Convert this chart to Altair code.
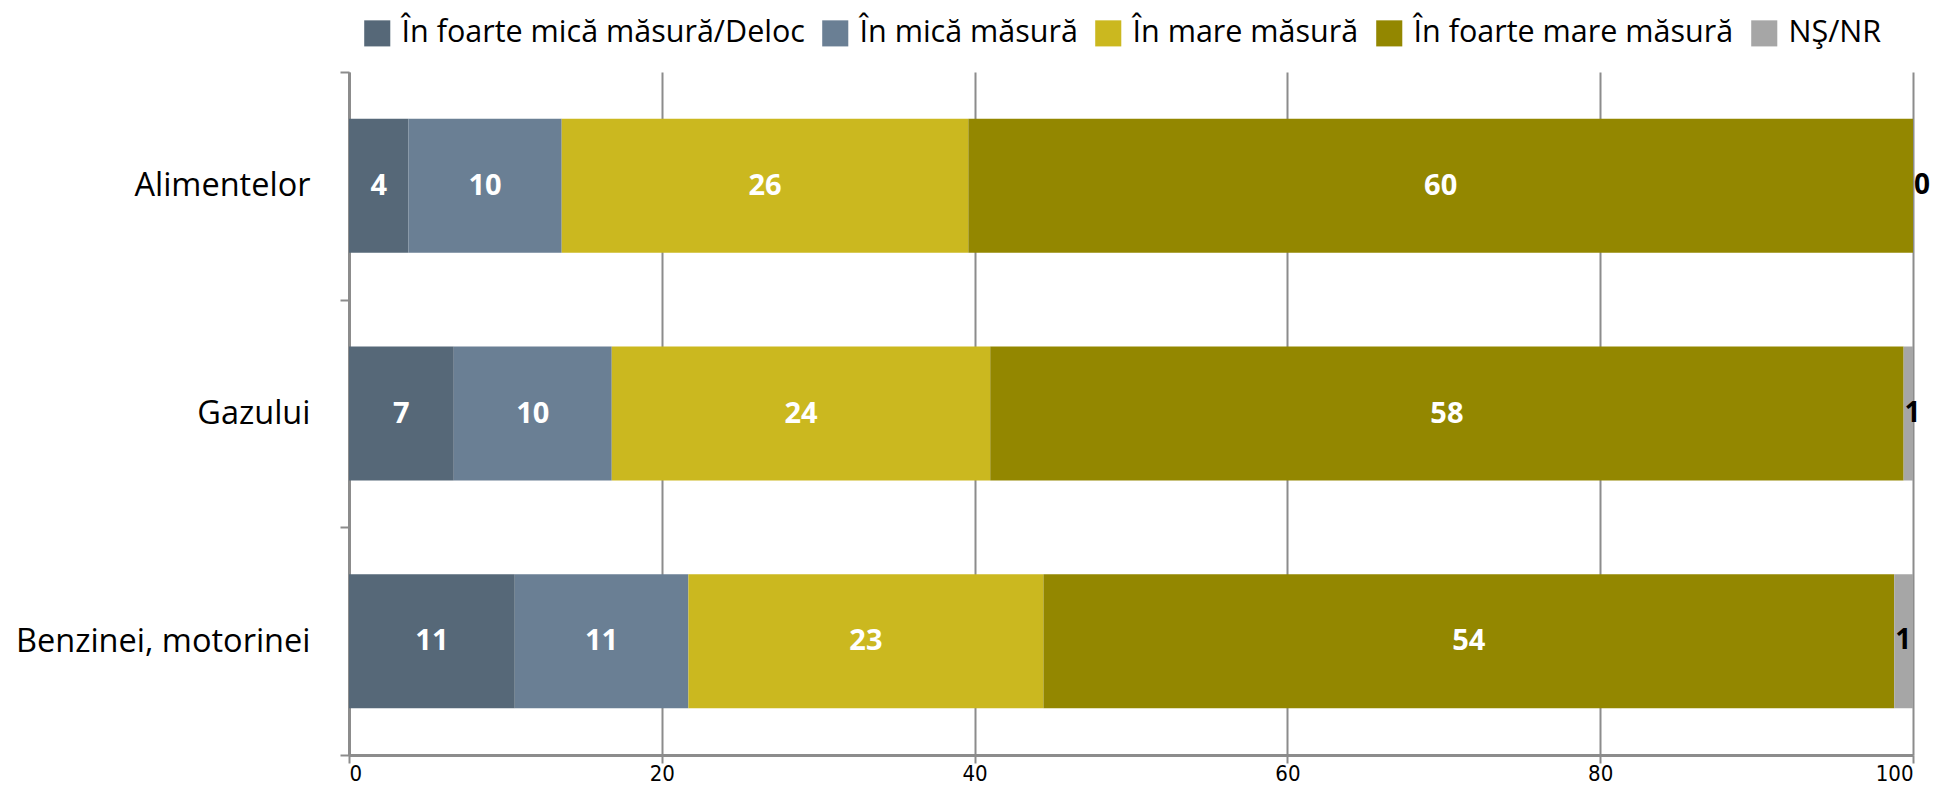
import altair as alt
import pandas as pd

categories = ["Alimentelor", "Gazului", "Benzinei, motorinei"]
series = ["În foarte mică măsură/Deloc", "În mică măsură", "În mare măsură",
          "În foarte mare măsură", "NŞ/NR"]
colors = ["#566878", "#6a7f94", "#cbb81f", "#938700", "#a6a6a6"]

alimentelor = [3.8, 9.8, 26.0, 60.4, 0.0]
gazului = [6.7, 10.1, 24.2, 58.4, 0.6]
benzinei = [10.6, 11.1, 22.7, 54.4, 1.2]
x_ticks = [0, 20, 40, 60, 80, 100]

rows = []
for cat, vals in zip(categories, [alimentelor, gazului, benzinei]):
    for i, (s, v) in enumerate(zip(series, vals)):
        rows.append({"cat": cat, "series": s, "order": i, "value": v})
df = pd.DataFrame(rows)

FONT = "Open Sans"
NARROW = "Liberation Sans Narrow, DejaVu Sans Condensed, Open Sans"

base = alt.Chart(df).transform_stack(
    stack="value", groupby=["cat"], sort=[alt.SortField("order")], as_=["x0", "x1"]
).transform_calculate(mid="(datum.x0 + datum.x1) / 2")

y_enc = alt.Y("cat:N", sort=categories, title=None,
              scale=alt.Scale(paddingInner=0, paddingOuter=0),
              axis=alt.Axis(tickBand="extent", labelFont=FONT, labelFontSize=32.5,
                            labelColor="#000000", labelPadding=30, tickSize=9,
                            labelLimit=1000,
                            tickColor="#8c8c8c", tickWidth=2, domainColor="#8c8c8c",
                            domainWidth=3))

bars = base.mark_bar(height=134).encode(
    x=alt.X("x0:Q", title=None, scale=alt.Scale(domain=[0, 100], nice=False),
            axis=alt.Axis(values=x_ticks, grid=True, gridColor="#8c8c8c", gridWidth=2,
                          domainColor="#8c8c8c", domainWidth=3, tickColor="#8c8c8c",
                          tickWidth=2, tickSize=8, labelFont=NARROW, labelFontSize=22,
                          labelColor="#000000", labelPadding=0)),
    x2="x1:Q",
    y=y_enc,
    color=alt.Color("series:N", sort=series,
                    scale=alt.Scale(domain=series, range=colors),
                    legend=alt.Legend(orient="none", legendX=13, legendY=-54,
                                      direction="horizontal", title=None,
                                      symbolType="square", symbolSize=680,
                                      symbolStrokeWidth=0, labelFont=FONT,
                                      labelFontSize=30.5, labelColor="#000000",
                                      labelOffset=9, columnPadding=15,
                                      labelLimit=1000, symbolOpacity=1)),
)

inner = base.transform_filter(alt.datum.order < 4).mark_text(
    font=FONT, fontSize=29, fontWeight="bold", color="#ffffff"
).encode(
    x="mid:Q",
    y=alt.Y("cat:N", sort=categories),
    text=alt.Text("value:Q", format=".0f"),
)

outer = base.transform_filter(alt.datum.order == 4).mark_text(
    font=FONT, fontSize=28, fontWeight="bold", color="#000000", dx=9
).encode(
    x="x0:Q",
    y=alt.Y("cat:N", sort=categories),
    text=alt.Text("value:Q", format=".0f"),
)

chart = alt.layer(bars, inner, outer).properties(
    width=1564, height=683,
    autosize=alt.AutoSizeParams(type="none"),
    padding={"left": 341, "top": 64, "right": 19, "bottom": 30},
).configure_view(stroke=None).configure_axis(labelFontWeight="normal")

chart.save("out.html", embed_options={"renderer": "svg", "actions": False})
